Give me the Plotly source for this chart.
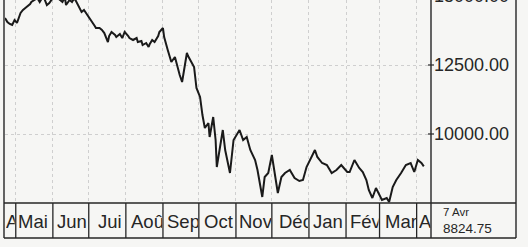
import plotly.graph_objects as go
import pandas as pd

# ---- data ----
dates = [
    "2008-04-22", "2008-04-24", "2008-04-26", "2008-04-28", "2008-04-30", "2008-05-02",
    "2008-05-05", "2008-05-07", "2008-05-10", "2008-05-13", "2008-05-14", "2008-05-17",
    "2008-05-19", "2008-05-21", "2008-05-24", "2008-05-27", "2008-05-29", "2008-06-01",
    "2008-06-04", "2008-06-06", "2008-06-09", "2008-06-11", "2008-06-12", "2008-06-15",
    "2008-06-17", "2008-06-19", "2008-06-22", "2008-06-25", "2008-06-27", "2008-06-30",
    "2008-07-03", "2008-07-06", "2008-07-07", "2008-07-10", "2008-07-12", "2008-07-14",
    "2008-07-17", "2008-07-18", "2008-07-20", "2008-07-23", "2008-07-24", "2008-07-27",
    "2008-07-29", "2008-07-31", "2008-08-03", "2008-08-04", "2008-08-07", "2008-08-10",
    "2008-08-11", "2008-08-14", "2008-08-15", "2008-08-18", "2008-08-20", "2008-08-21",
    "2008-08-23", "2008-08-25", "2008-08-28", "2008-08-29", "2008-09-01", "2008-09-02",
    "2008-09-05", "2008-09-06", "2008-09-08", "2008-09-11", "2008-09-13", "2008-09-15",
    "2008-09-17", "2008-09-19", "2008-09-21", "2008-09-22", "2008-09-25", "2008-09-27",
    "2008-09-29", "2008-10-02", "2008-10-04", "2008-10-06", "2008-10-09", "2008-10-10",
    "2008-10-13", "2008-10-15", "2008-10-16", "2008-10-19", "2008-10-21", "2008-10-23",
    "2008-10-26", "2008-10-27", "2008-10-30", "2008-11-02", "2008-11-04", "2008-11-07",
    "2008-11-10", "2008-11-13", "2008-11-17", "2008-11-19", "2008-11-23", "2008-11-25",
    "2008-11-28", "2008-12-01", "2008-12-04", "2008-12-06", "2008-12-09", "2008-12-12",
    "2008-12-16", "2008-12-20", "2008-12-24", "2008-12-27", "2008-12-30", "2009-01-02",
    "2009-01-06", "2009-01-08", "2009-01-12", "2009-01-16", "2009-01-20", "2009-01-24",
    "2009-01-28", "2009-02-02", "2009-02-04", "2009-02-08", "2009-02-12", "2009-02-15",
    "2009-02-18", "2009-02-20", "2009-02-23", "2009-02-26", "2009-03-01", "2009-03-03",
    "2009-03-07", "2009-03-09", "2009-03-12", "2009-03-15", "2009-03-19", "2009-03-23",
    "2009-03-27", "2009-03-30", "2009-04-02", "2009-04-05", "2009-04-07",
]
closes = [
    14203, 14058, 13985, 13949, 14130, 14022,
    14384, 14493, 14601, 14710, 14782, 14855,
    14927, 14782, 15000, 14674, 14746, 14927,
    15036, 14891, 14782, 14964, 14674, 14855,
    14782, 14927, 14674, 14420, 14493, 14311,
    14130, 13913, 13840, 13840, 13768, 13659,
    13333, 13551, 13696, 13587, 13514, 13623,
    13478, 13696, 13551, 13478, 13406, 13478,
    13333, 13369, 13224, 13297, 13152, 13261,
    13406, 13333, 13551, 13696, 13840, 13514,
    13043, 12862, 12609, 12790, 12427, 12138,
    11884, 12427, 12935, 12826, 12572, 12427,
    11667, 11341, 10688, 10217, 10399, 9891,
    10616, 9783, 8804, 9674, 10145, 9420,
    8804, 8587, 9783, 10036, 10145, 9783,
    9891, 9420, 9058, 8696, 7718, 8442,
    8587, 9239, 8333, 7862, 8442, 8587,
    8696, 8406, 8297, 8333, 8804, 9058,
    9420, 9167, 8949, 8877, 8587, 8696,
    8877, 8623, 8623, 9058, 8768, 8623,
    8333, 7971, 7681, 8044, 7790, 7609,
    7681, 7536, 8080, 8333, 8587, 8877,
    8949, 8623, 9058, 8949, 8824.75,
]
month_starts = [
    "2008-04-22", "2008-05-01", "2008-06-01", "2008-07-01", "2008-08-01", "2008-09-01",
    "2008-10-01", "2008-11-01", "2008-12-01", "2009-01-01", "2009-02-01", "2009-03-01",
    "2009-04-01",
]
month_labels = ["Avr", "Mai", "Jun", "Jui", "Aoû", "Sep", "Oct", "Nov", "Déc",
                "Jan", "Fév", "Mar", "Avr"]
price_ticks = [10000, 12500]
price_tick_text = ["10000.00", "12500.00"]
top_tick_value = 15000
top_tick_text = "15000.00"
last_date_text = "7 Avr"
last_close_text = "8824.75"

# ---- layout geometry ----
W, H = 528, 247
ML, MR, MT, MB = 5, 97, 0, 44
PW = W - ML - MR          # 426
PH = H - MT - MB          # 203
X0, X1 = "2008-04-22", "2009-04-13"
Y0, Y1 = 7500, 14855
ink = "#262626"
paper = "#f6f6f4"
font = "Liberation Sans, Arial, Helvetica, sans-serif"

def px2x(px):
    return (px - ML) / PW

def py2y(py):
    return (MT + PH - py) / PH

fig = go.Figure()
fig.add_trace(go.Scatter(
    x=dates, y=closes, mode="lines",
    line=dict(color="#1a1a1a", width=2),
    hoverinfo="x+y", showlegend=False,
))

days_total = (pd.Timestamp(X1) - pd.Timestamp(X0)).days
px_per_day = PW / days_total

shapes = []
annotations = []
shifts = [0, 1, 3, 8, 4, 3, 4, 2, 6, 3, 3, 4, 1]
ends = month_starts[1:] + [X1]
for i, (s, e, lab) in enumerate(zip(month_starts, ends, month_labels)):
    if i > 0:
        shapes.append(dict(type="line", xref="x", yref="paper", x0=s, x1=s,
                           y0=py2y(238), y1=0, line=dict(color=ink, width=1.3)))
    wpx = (pd.Timestamp(e) - pd.Timestamp(s)).days * px_per_day
    annotations.append(dict(
        x=s, xref="x", y=py2y(221), yref="paper", xanchor="left", yanchor="middle",
        xshift=shifts[i], width=max(wpx - shifts[i] - 2, 4), align="left",
        text=lab, showarrow=False, borderpad=0,
        font=dict(family=font, size=18.5, color=ink),
    ))

# frame lines
frame = [
    (4, 0, 4, 238),
    (4, 238, 516, 238),
    (516, 0, 516, 238),
    (4, 203, 516, 203),
    (431, 0, 431, 238),
]
for xa, ya, xb, yb in frame:
    shapes.append(dict(type="line", xref="paper", yref="paper",
                       x0=px2x(xa), x1=px2x(xb), y0=py2y(ya), y1=py2y(yb),
                       line=dict(color=ink, width=1.4)))

# price tick marks (crossing the border)
for v in price_ticks + [top_tick_value]:
    shapes.append(dict(type="line", xref="paper", yref="y", x0=px2x(428), x1=px2x(434),
                       y0=v, y1=v, line=dict(color=ink, width=1.2)))

annotations.append(dict(
    x=px2x(432), xref="paper", y=py2y(-4), yref="paper", xanchor="left", yanchor="middle",
    text=top_tick_text, showarrow=False, font=dict(family=font, size=18, color=ink)))
for v, t in zip(price_ticks, price_tick_text):
    annotations.append(dict(
        x=px2x(432), xref="paper", y=v, yref="y", xanchor="left", yanchor="middle",
        text=t, showarrow=False, font=dict(family=font, size=18, color=ink)))

annotations.append(dict(
    x=px2x(441), xref="paper", y=py2y(211.5), yref="paper", xanchor="left", yanchor="middle",
    text=last_date_text, showarrow=False, font=dict(family=font, size=11.5, color=ink)))
annotations.append(dict(
    x=px2x(441), xref="paper", y=py2y(228.5), yref="paper", xanchor="left", yanchor="middle",
    text=last_close_text, showarrow=False, font=dict(family=font, size=13.5, color=ink)))

fig.update_layout(
    width=W, height=H,
    margin=dict(l=ML, r=MR, t=MT, b=MB, pad=0),
    paper_bgcolor=paper, plot_bgcolor=paper,
    xaxis=dict(type="date", range=[X0, X1], tickvals=month_starts[1:],
               showticklabels=False, ticks="", showgrid=True,
               gridcolor="#cfcfcf", griddash="dot", gridwidth=1,
               zeroline=False, showline=False, fixedrange=True),
    yaxis=dict(range=[Y0, Y1], tickvals=price_ticks + [top_tick_value],
               showticklabels=False, ticks="", showgrid=True,
               gridcolor="#cfcfcf", griddash="dot", gridwidth=1,
               zeroline=False, showline=False, fixedrange=True),
    shapes=shapes,
    annotations=annotations,
    font=dict(family=font, color=ink),
)

fig.write_html(
    "out.html",
    config={"displayModeBar": False},
    post_script="document.body.style.margin='0';document.body.style.background='%s';" % paper,
)
